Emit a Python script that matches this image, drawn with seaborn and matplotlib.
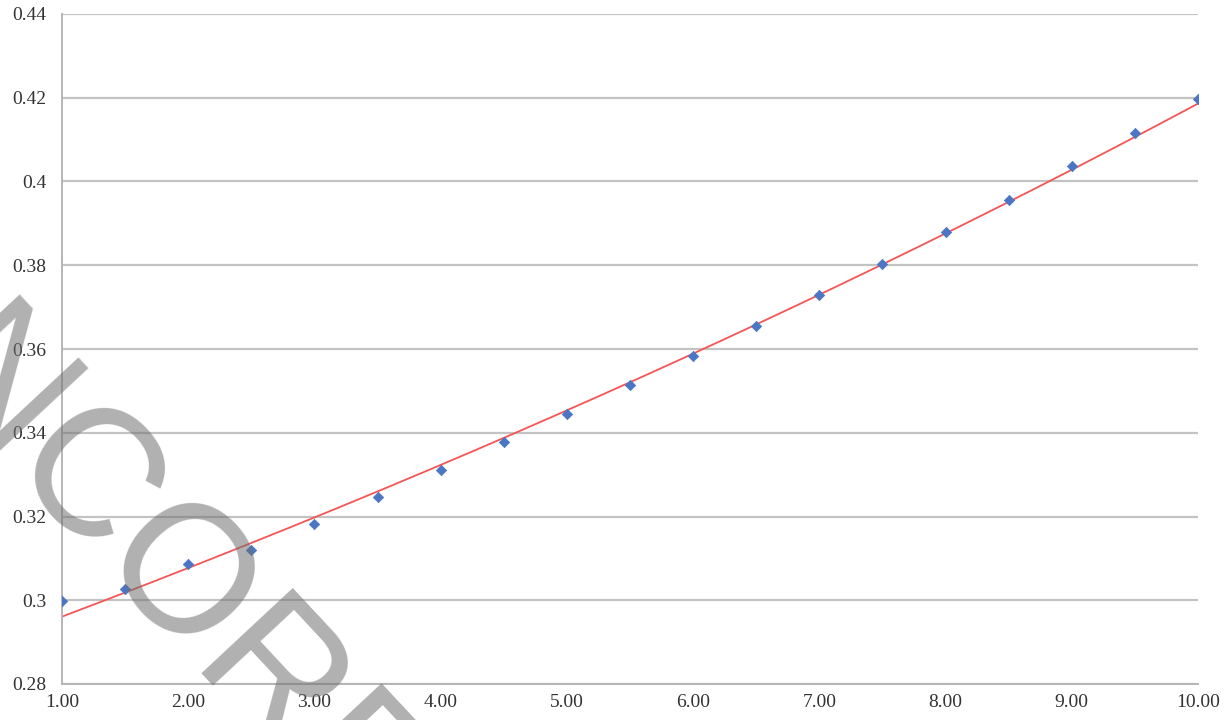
import numpy as np
import pandas as pd
import matplotlib
matplotlib.use("Agg")
import matplotlib.pyplot as plt
import seaborn as sns

# Measured values
x_vals = [1.0, 1.5, 2.0, 2.5, 3.0, 3.5, 4.0, 4.5, 5.0, 5.5,
          6.0, 6.5, 7.0, 7.5, 8.0, 8.5, 9.0, 9.5, 10.0]
y_vals = [0.2998, 0.3027, 0.3087, 0.3120, 0.3182, 0.3247, 0.3311, 0.3378,
          0.3445, 0.3514, 0.3583, 0.3655, 0.3729, 0.3803, 0.3879, 0.3956,
          0.4037, 0.4116, 0.4197]

x_ticks = [1, 2, 3, 4, 5, 6, 7, 8, 9, 10]
x_tick_labels = ["1.00", "2.00", "3.00", "4.00", "5.00",
                 "6.00", "7.00", "8.00", "9.00", "10.00"]
y_ticks = [0.28, 0.30, 0.32, 0.34, 0.36, 0.38, 0.40, 0.42, 0.44]
y_tick_labels = ["0.28", "0.3", "0.32", "0.34", "0.36", "0.38", "0.4", "0.42", "0.44"]

watermark = "INCORRECT"

df = pd.DataFrame({"x": x_vals, "y": y_vals})

# Exponential trendline y = a * exp(b x), fitted in log space
b, ln_a = np.polyfit(df["x"], np.log(df["y"]), 1)
xs = np.linspace(min(x_vals), max(x_vals), 200)
trend = pd.DataFrame({"x": xs, "y": np.exp(ln_a + b * xs)})

sns.set_theme(style="white")
plt.rcParams["font.family"] = ["Liberation Serif", "DejaVu Serif"]

fig = plt.figure(figsize=(12.3, 7.2), dpi=100)
ax = fig.add_axes([62 / 1230, 1 - 684 / 720, (1198 - 62) / 1230, (684 - 14) / 720])

grid_c = "#c3c3c3"
ax.set_ylim(0.28, 0.44)
ax.set_xlim(1, 10)
for yv in y_ticks:
    ax.axhline(yv, color=grid_c, lw=1.6, zorder=0)

sns.lineplot(data=trend, x="x", y="y", ax=ax, color="#f55555", lw=1.3, zorder=2)
sns.scatterplot(data=df, x="x", y="y", ax=ax, marker="D", s=28, color="#4a76c4",
                edgecolor="#4a76c4", linewidth=0.5, zorder=3)

ax.set_xticks(x_ticks)
ax.set_xticklabels(x_tick_labels)
ax.set_yticks(y_ticks)
ax.set_yticklabels(y_tick_labels)
ax.set_xlabel("")
ax.set_ylabel("")

for side in ["top", "right"]:
    ax.spines[side].set_visible(False)
for side in ["left", "bottom"]:
    ax.spines[side].set_color("#b5b5b5")
    ax.spines[side].set_linewidth(1.4)

ax.tick_params(axis="both", which="major", direction="out", width=1.2,
               color="#b5b5b5", labelsize=14, labelcolor="#333333")
ax.tick_params(axis="x", length=4, pad=3)
ax.tick_params(axis="y", length=5, pad=6)

# Diagonal watermark across the lower left
fig.text(278 / 1230, 1 - 705 / 720, watermark, fontsize=130,
         family=["Liberation Sans", "DejaVu Sans"], color="#707070", alpha=0.55,
         rotation=-47, rotation_mode="anchor", ha="center", va="center", zorder=10)

fig.savefig("out.png", dpi=100)
